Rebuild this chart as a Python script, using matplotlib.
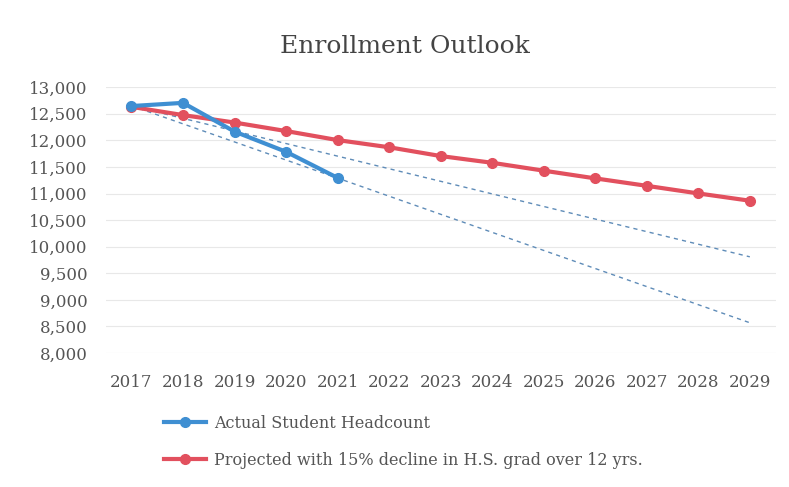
import matplotlib.pyplot as plt
from matplotlib.ticker import FuncFormatter

years = [2017, 2018, 2019, 2020, 2021, 2022, 2023, 2024, 2025, 2026, 2027, 2028, 2029]
actual_years = [2017, 2018, 2019, 2020, 2021]
actual = [12645, 12705, 12165, 11785, 11295]
projected = [12630, 12475, 12335, 12175, 12005, 11870, 11705, 11578, 11430, 11285, 11145, 11002, 10865]

# dashed trend lines (start year/value, end year/value)
trend_x = [2017, 2029]
trend_upper = [12650, 9810]
trend_lower = [12650, 8570]

plt.rcParams['font.family'] = ['DejaVu Serif']

fig = plt.figure(figsize=(7.89, 4.87), dpi=100)
ax = fig.add_axes([0.134, 0.275, 0.849, 0.546])

blue = '#3f8fd2'
red = '#e2505e'

ax.plot(trend_x, trend_upper, color='#5f8cb8', lw=1.0, ls=(0, (3, 3)), zorder=2)
ax.plot(trend_x, trend_lower, color='#5f8cb8', lw=1.0, ls=(0, (3, 3)), zorder=2)

ax.plot(actual_years, actual, color=blue, lw=3, marker='o', ms=7,
        label='Actual Student Headcount', zorder=4)
ax.plot(years, projected, color=red, lw=3, marker='o', ms=7,
        label='Projected with 15% decline in H.S. grad over 12 yrs.', zorder=3)

ax.set_xlim(2016.5, 2029.5)
ax.set_ylim(8000, 13000)
ax.set_yticks(range(8000, 13001, 500))
ax.set_xticks(years)
ax.yaxis.set_major_formatter(FuncFormatter(lambda v, p: f'{int(v):,}'))
ax.grid(axis='y', color='#e8e8e8', lw=0.8)
ax.set_axisbelow(True)
for s in ax.spines.values():
    s.set_visible(False)
ax.tick_params(length=0, labelsize=12, colors='#555555', pad=15)
ax.tick_params(axis='y', pad=13)

fig.text(0.513, 0.905, 'Enrollment Outlook', ha='center', va='center',
         fontsize=18, color='#444444')

fig.legend(loc='upper left', bbox_to_anchor=(0.19, 0.178), frameon=False,
           fontsize=11.5, handlelength=2.6, labelspacing=1.25,
           labelcolor='#555555', handletextpad=0.5)

fig.savefig('out.png', dpi=100)
